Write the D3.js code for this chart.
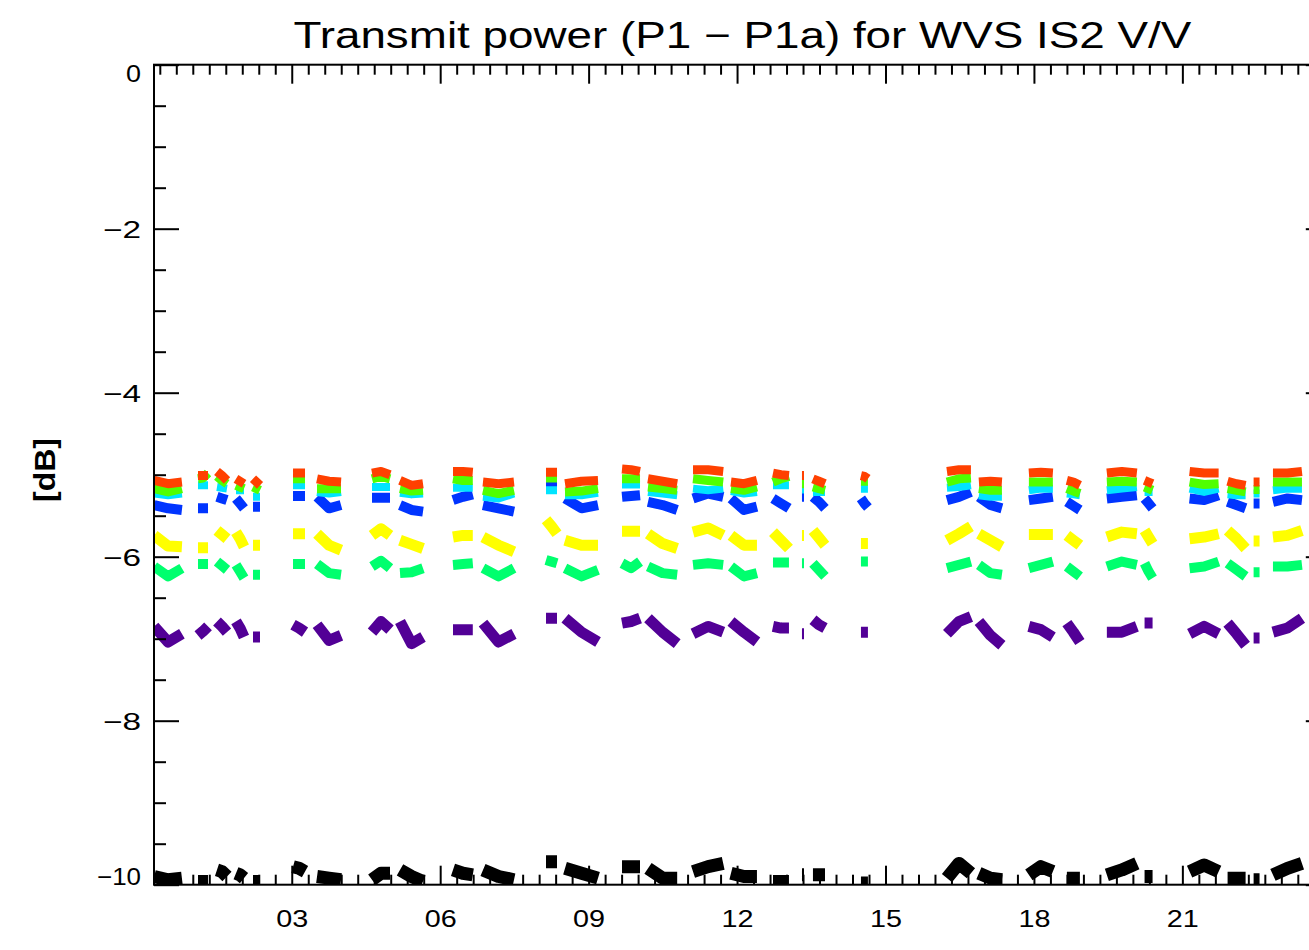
<!DOCTYPE html>
<html><head><meta charset="utf-8">
<script src="https://cdn.jsdelivr.net/npm/d3@7"></script>
<style>body{margin:0;background:#fff}svg{display:block}</style>
</head><body><svg id="c" width="1309" height="950"></svg>
<script>
// Time spans (hours) of each data block (shared by all series)
const segStart = [0.22,1.105,1.489,1.873,2.217,3.026,3.511,4.622,5.188,6.259,6.865,8.139,8.523,9.675,10.2,11.11,11.877,12.726,13.312,13.534,14.504,16.242,16.888,17.898,18.666,19.474,20.236,21.146,21.914,22.44,22.831];
const segEnd   = [0.78,1.308,1.691,2.035,2.358,3.268,3.996,4.986,5.653,6.659,7.492,8.361,9.19,10.039,10.79,11.72,12.402,13.049,13.353,13.777,14.645,16.727,17.353,18.383,18.929,20.08,20.398,21.733,22.278,22.56,23.417];

// Values (dB) per block: start / middle / end (or a single level)
const red = [[-5.07,-5.11,-5.09],[-5.01],[-4.96,-5.01,-5.07],[-5.05,-5.08,-5.11],[-5.05,-5.09,-5.13],[-4.98],[-5.05,-5.08,-5.09],[-4.98,-4.96,-5.00],[-5.07,-5.13,-5.11],[-4.96,-4.96,-4.97],[-5.09,-5.11,-5.09],[-4.97],[-5.11,-5.08,-5.07],[-4.93,-4.94,-4.96],[-5.05,-5.08,-5.11],[-4.94,-4.94,-4.96],[-5.09,-5.11,-5.07],[-4.98,-5.00,-5.01],[-5.01],[-5.05,-5.08,-5.11],[-5.01,-5.02,-5.05],[-4.96,-4.94,-4.94],[-5.09,-5.08,-5.09],[-4.98,-4.97,-4.98],[-5.07,-5.09,-5.13],[-4.98,-4.96,-4.98],[-5.07,-5.09,-5.11],[-4.96,-4.98,-4.98],[-5.08,-5.11,-5.13],[-5.09],[-4.98,-4.98,-4.96]];
const green = [[-5.17,-5.21,-5.17],[-5.05,-5.04,-4.98],[-5.02,-5.07,-5.11],[-5.13,-5.15,-5.17],[-5.15,-5.17,-5.19],[-5.05],[-5.17],[-5.05,-5.02,-5.05],[-5.17,-5.20,-5.19],[-5.05,-5.07,-5.07],[-5.19,-5.23,-5.19],[-5.04],[-5.21,-5.20,-5.17],[-5.05],[-5.15,-5.17,-5.19],[-5.05,-5.07,-5.09],[-5.17,-5.19,-5.15],[-5.09,-5.05,-5.02],[-5.11],[-5.15,-5.17,-5.19],[-5.08],[-5.09,-5.05,-5.04],[-5.17,-5.19,-5.19],[-5.09,-5.09,-5.09],[-5.17,-5.20,-5.23],[-5.09,-5.08,-5.09],[-5.15,-5.17,-5.19],[-5.09,-5.12,-5.11],[-5.17,-5.19,-5.21],[-5.18],[-5.09,-5.09,-5.09]];
const cyan = [[-5.23,-5.25,-5.23],[-5.13],[-5.15,-5.16,-5.17],[-5.19],[-5.27],[-5.13],[-5.21,-5.23,-5.21],[-5.15],[-5.22,-5.24,-5.23],[-5.16],[-5.27,-5.29,-5.23],[-5.19],[-5.25,-5.25,-5.22],[-5.12],[-5.21,-5.23,-5.25],[-5.17,-5.19,-5.17],[-5.20,-5.23,-5.21],[-5.13,-5.13,-5.13],[-5.18],[-5.21],[-5.17],[-5.16,-5.15,-5.13],[-5.25,-5.27,-5.27],[-5.19,-5.17,-5.17],[-5.23,-5.24,-5.25],[-5.19,-5.17,-5.15],[-5.21],[-5.17,-5.21,-5.17],[-5.24,-5.25,-5.25],[-5.23],[-5.19,-5.17,-5.17]];
const blue = [[-5.37,-5.41,-5.43],[-5.41],[-5.27,-5.29,-5.31],[-5.29,-5.35,-5.41],[-5.39],[-5.26],[-5.27,-5.41,-5.37],[-5.28],[-5.37,-5.43,-5.45],[-5.31,-5.27,-5.24],[-5.37,-5.41,-5.45],[-5.15],[-5.29,-5.41,-5.37],[-5.27,-5.26,-5.25],[-5.33,-5.37,-5.43],[-5.29,-5.23,-5.27],[-5.29,-5.43,-5.39],[-5.29,-5.35,-5.41],[-5.27],[-5.27,-5.33,-5.41],[-5.29,-5.35,-5.40],[-5.31,-5.27,-5.21],[-5.27,-5.37,-5.41],[-5.31,-5.29,-5.27],[-5.33,-5.38,-5.43],[-5.29,-5.27,-5.25],[-5.29,-5.35,-5.41],[-5.29,-5.31,-5.25],[-5.33,-5.37,-5.41],[-5.35],[-5.33,-5.29,-5.31]];
const yellow = [[-5.74,-5.87,-5.88],[-5.89],[-5.68,-5.73,-5.78],[-5.70,-5.78,-5.88],[-5.86],[-5.72],[-5.72,-5.86,-5.92],[-5.74,-5.66,-5.74],[-5.80,-5.85,-5.90],[-5.76,-5.74,-5.74],[-5.76,-5.86,-5.94],[-5.55,-5.63,-5.72],[-5.80,-5.86,-5.86],[-5.69],[-5.72,-5.84,-5.90],[-5.70,-5.65,-5.74],[-5.74,-5.86,-5.86],[-5.70,-5.80,-5.90],[-5.74],[-5.68,-5.77,-5.86],[-5.84],[-5.80,-5.72,-5.63],[-5.72,-5.80,-5.88],[-5.73],[-5.74,-5.80,-5.86],[-5.76,-5.70,-5.72],[-5.68,-5.76,-5.84],[-5.78,-5.76,-5.72],[-5.68,-5.78,-5.90],[-5.81],[-5.76,-5.74,-5.68]];
const springGreen = [[-6.12,-6.24,-6.14],[-6.09],[-6.06,-6.11,-6.16],[-6.10,-6.18,-6.26],[-6.22],[-6.09],[-6.09,-6.20,-6.22],[-6.12,-6.05,-6.14],[-6.20,-6.19,-6.14],[-6.10,-6.09,-6.08],[-6.14,-6.24,-6.14],[-6.04,-6.06,-6.08],[-6.14,-6.24,-6.16],[-6.08,-6.14,-6.06],[-6.12,-6.20,-6.22],[-6.10,-6.08,-6.10],[-6.12,-6.24,-6.20],[-6.07],[-6.08],[-6.08,-6.16,-6.24],[-6.06],[-6.14,-6.10,-6.06],[-6.10,-6.20,-6.22],[-6.14,-6.10,-6.06],[-6.12,-6.18,-6.24],[-6.12,-6.06,-6.10],[-6.08,-6.18,-6.26],[-6.14,-6.12,-6.06],[-6.08,-6.16,-6.24],[-6.19],[-6.12,-6.12,-6.10]];
const purple = [[-6.85,-7.04,-6.94],[-6.96,-6.91,-6.85],[-6.79,-6.85,-6.92],[-6.79,-6.87,-6.98],[-6.98],[-6.83,-6.87,-6.92],[-6.83,-7.02,-6.96],[-6.92,-6.79,-6.89],[-6.79,-7.06,-6.98],[-6.89],[-6.81,-7.04,-6.94],[-6.75],[-6.75,-6.92,-7.04],[-6.81,-6.79,-6.75],[-6.75,-6.92,-7.06],[-6.94,-6.85,-6.92],[-6.79,-6.92,-7.04],[-6.85,-6.87,-6.87],[-6.94],[-6.77,-6.83,-6.87],[-6.92],[-6.94,-6.79,-6.73],[-6.79,-6.96,-7.08],[-6.85,-6.89,-6.98],[-6.81,-6.92,-7.04],[-6.92,-6.92,-6.85],[-6.81],[-6.94,-6.85,-6.94],[-6.81,-6.94,-7.08],[-6.99],[-6.92,-6.87,-6.75]];
const black = [[-9.90,-9.94,-9.92],[-9.96],[-9.82,-9.84,-9.90],[-9.86,-9.88,-9.92],[-9.96],[-9.78,-9.80,-9.84],[-9.90,-9.92,-9.94],[-9.94,-9.86,-9.86],[-9.82,-9.90,-9.96],[-9.82,-9.86,-9.88],[-9.82,-9.90,-9.94],[-9.72],[-9.80,-9.86,-9.92],[-9.78],[-9.80,-9.92,-9.92],[-9.84,-9.78,-9.74],[-9.86,-9.90,-9.90],[-9.96],[-9.88],[-9.88],[-9.98],[-9.92,-9.74,-9.86],[-9.86,-9.92,-9.94],[-9.88,-9.78,-9.84],[-9.92],[-9.88,-9.82,-9.74],[-9.90],[-9.84,-9.76,-9.84],[-9.92],[-9.94],[-9.88,-9.80,-9.74]];

const xMajorTicks = [3,6,9,12,15,18,21,24];
const xTickLabels = ["03","06","09","12","15","18","21",""];
const yMajorTicks = [0,-2,-4,-6,-8,-10];
const yTickLabels = ["0","\u22122","\u22124","\u22126","\u22128","\u221210"];
const titleText = "Transmit power (P1 \u2212 P1a) for WVS IS2 V/V";
const yTitle = "[dB]";

const W = 1309, H = 950;
const svg = d3.select('#c');
svg.append('rect').attr('width', W).attr('height', H).attr('fill', '#fff');

const x = d3.scaleLinear().domain([0.216, 24]).range([154, 1330.8]);
const y = d3.scaleLinear().domain([-10, 0]).range([884.7, 64.7]);
const [x0, x1] = x.range(), yT = y(0), yB = y(-10);

svg.append('defs').append('clipPath').attr('id', 'pc').append('rect')
  .attr('x', x0).attr('y', yT).attr('width', x1 - x0).attr('height', yB - yT);

const series = [
  {vals: black, color: '#000000', w: 13},
  {vals: purple, color: '#520096', w: 11},
  {vals: springGreen, color: '#00ff6e', w: 10},
  {vals: yellow, color: '#ffff00', w: 11},
  {vals: blue, color: '#0034ff', w: 10},
  {vals: cyan, color: '#00e4ff', w: 8},
  {vals: green, color: '#50ff00', w: 9},
  {vals: red, color: '#ff4000', w: 9}
];
function pts(vals) {
  const out = [];
  vals.forEach((v, i) => {
    const s = segStart[i], e = segEnd[i];
    const ts = v.length === 1 ? [s, e] : [s, (s + e) / 2, e];
    const vs = v.length === 1 ? [v[0], v[0]] : v;
    ts.forEach((t, k) => out.push([t, vs[k]]));
    out.push(null);
  });
  return out;
}
const line = d3.line().defined(d => d !== null).x(d => x(d[0])).y(d => y(d[1]));
const gData = svg.append('g').attr('clip-path', 'url(#pc)');
series.forEach(s => {
  gData.append('path').datum(pts(s.vals)).attr('d', line)
    .attr('fill', 'none').attr('stroke', s.color).attr('stroke-width', s.w)
    .attr('stroke-linejoin', 'round').attr('stroke-linecap', 'butt');
});

// Axes
const font = "'Liberation Sans', Arial, sans-serif";
const xMinor = d3.range(1, 72).map(i => i / 3).filter(v => v > 0.22 && Math.abs(v / 3 - Math.round(v / 3)) > 1e-6);
const yMinor = d3.range(-19, 0).map(i => i * 0.5).filter(v => Math.abs(v / 2 - Math.round(v / 2)) > 1e-6);

function styleAxis(g) {
  g.select('.domain').remove();
  g.selectAll('line').attr('stroke', '#000').attr('stroke-width', 2);
  g.selectAll('text').attr('fill', '#000').style('font-family', font).style('font-size', '24px');
}
// top
svg.append('g').attr('transform', `translate(0,${yT})`).call(d3.axisBottom(x).tickValues(xMajorTicks).tickSize(19).tickFormat('')).call(styleAxis);
svg.append('g').attr('transform', `translate(0,${yT})`).call(d3.axisBottom(x).tickValues(xMinor).tickSize(10).tickFormat('')).call(styleAxis);
// bottom
svg.append('g').attr('transform', `translate(0,${yB})`)
  .call(d3.axisBottom(x).tickValues(xMajorTicks).tickSizeInner(-19).tickSizeOuter(0).tickPadding(25)
    .tickFormat((d, i) => xTickLabels[i]))
  .call(styleAxis)
  .call(g => g.selectAll('text').filter(function() { return this.textContent !== ''; })
    .attr('textLength', 32).attr('lengthAdjust', 'spacingAndGlyphs'));
svg.append('g').attr('transform', `translate(0,${yB})`).call(d3.axisBottom(x).tickValues(xMinor).tickSizeInner(-10).tickSizeOuter(0).tickFormat('')).call(styleAxis);
// left
svg.append('g').attr('transform', `translate(${x0},0)`)
  .call(d3.axisLeft(y).tickValues(yMajorTicks).tickSizeInner(-25).tickSizeOuter(0).tickPadding(13)
    .tickFormat((d, i) => yTickLabels[i]))
  .call(styleAxis)
  .call(g => g.selectAll('text')
    .attr('textLength', (d, i) => i === 0 ? 15 : (i === 5 ? 44 : 38)).attr('lengthAdjust', 'spacingAndGlyphs')
    .attr('dy', (d, i) => i === 0 ? '0.72em' : (i === 5 ? '0.0em' : '0.36em')));
svg.append('g').attr('transform', `translate(${x0},0)`).call(d3.axisLeft(y).tickValues(yMinor).tickSizeInner(-12).tickSizeOuter(0).tickFormat('')).call(styleAxis);
// right
svg.append('g').attr('transform', `translate(${x1},0)`).call(d3.axisRight(y).tickValues(yMajorTicks).tickSizeInner(-25).tickSizeOuter(0).tickFormat('')).call(styleAxis);
svg.append('g').attr('transform', `translate(${x1},0)`).call(d3.axisRight(y).tickValues(yMinor).tickSizeInner(-12).tickSizeOuter(0).tickFormat('')).call(styleAxis);

// frame
svg.append('rect').attr('x', x0).attr('y', yT).attr('width', x1 - x0).attr('height', yB - yT)
  .attr('fill', 'none').attr('stroke', '#000').attr('stroke-width', 2);

// titles
svg.append('text').attr('x', (x0 + x1) / 2).attr('y', 48).attr('text-anchor', 'middle')
  .style('font-family', font).style('font-size', '37px').attr('fill', '#000')
  .attr('textLength', 898).attr('lengthAdjust', 'spacingAndGlyphs').text(titleText);
svg.append('text').attr('transform', 'translate(55,470) rotate(-90)').attr('text-anchor', 'middle')
  .style('font-family', font).style('font-size', '30px').style('font-weight', 'bold').attr('fill', '#000')
  .attr('textLength', 64).attr('lengthAdjust', 'spacingAndGlyphs').text(yTitle);
</script>
</body></html>
